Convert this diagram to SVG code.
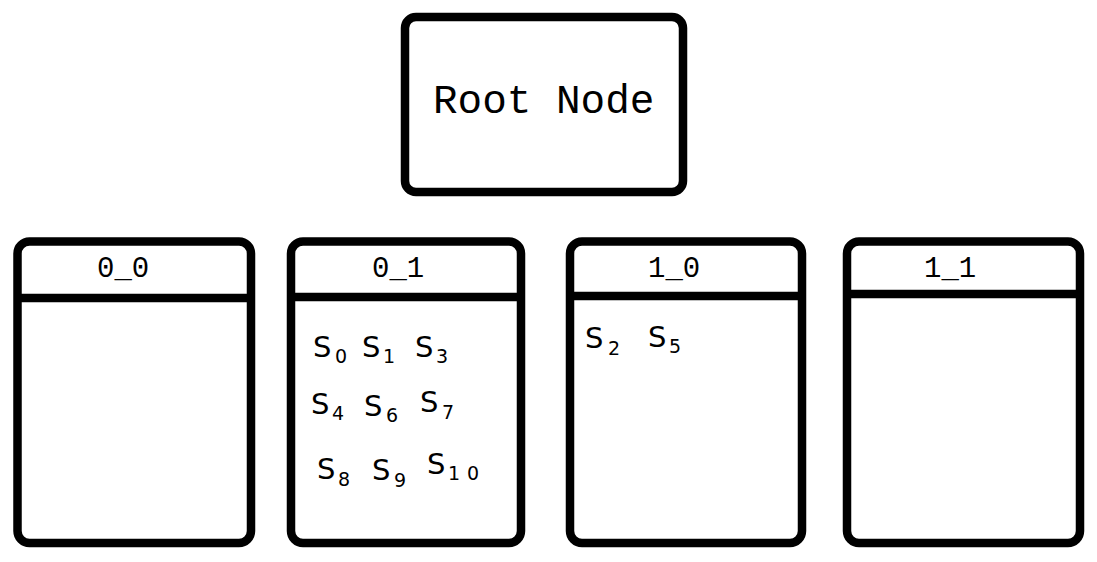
<svg xmlns="http://www.w3.org/2000/svg" width="1097" height="562" viewBox="0 0 1097 562">
<style>
.box{fill:#fff;stroke:#000;stroke-width:8.5;stroke-linejoin:round}
.div{stroke:#000;stroke-width:8.5;fill:none}
.mono{font-family:"Liberation Mono","DejaVu Sans Mono",monospace;fill:#000}
.title{font-size:41px}
.hdr{font-size:29px}
.s{font-family:"DejaVu Sans",sans-serif;font-size:29px;fill:#000}
.sub{font-size:19px}
</style>
<rect width="1097" height="562" fill="#fff"/>
<g id="root">
<rect class="box" x="405" y="17" width="278" height="175" rx="11"/>
<text class="mono title" x="433" y="113">Root Node</text>
</g>
<g id="n00">
<rect class="box" x="17.5" y="241.5" width="233.5" height="301.5" rx="12"/>
<line class="div" x1="17.5" y1="298" x2="251" y2="298"/>
<text class="mono hdr" x="97" y="277">0_0</text>
</g>
<g id="n01">
<rect class="box" x="291" y="241.5" width="230" height="301.5" rx="12"/>
<line class="div" x1="291" y1="297" x2="521" y2="297"/>
<text class="mono hdr" x="372" y="277">0_1</text>
<text class="s" x="313" y="357">S<tspan class="sub" x="335" y="363">0</tspan></text>
<text class="s" x="362" y="357">S<tspan class="sub" x="383" y="363">1</tspan></text>
<text class="s" x="415" y="357">S<tspan class="sub" x="436" y="363">3</tspan></text>
<text class="s" x="311" y="414">S<tspan class="sub" x="332" y="420">4</tspan></text>
<text class="s" x="364" y="416">S<tspan class="sub" x="386" y="422">6</tspan></text>
<text class="s" x="420" y="412">S<tspan class="sub" x="442" y="419">7</tspan></text>
<text class="s" x="317" y="479">S<tspan class="sub" x="338" y="486">8</tspan></text>
<text class="s" x="372" y="480">S<tspan class="sub" x="394" y="487">9</tspan></text>
<text class="s" x="427" y="474">S<tspan class="sub" x="448" y="480" letter-spacing="7">10</tspan></text>
</g>
<g id="n10">
<rect class="box" x="570" y="241.5" width="232" height="301.5" rx="12"/>
<line class="div" x1="570" y1="296" x2="802" y2="296"/>
<text class="mono hdr" x="648" y="277">1_0</text>
<text class="s" x="585" y="348">S<tspan class="sub" x="608" y="355">2</tspan></text>
<text class="s" x="648" y="347">S<tspan class="sub" x="669" y="353">5</tspan></text>
</g>
<g id="n11">
<rect class="box" x="847" y="241.5" width="233" height="301.5" rx="12"/>
<line class="div" x1="847" y1="294" x2="1080" y2="294"/>
<text class="mono hdr" x="924" y="277">1_1</text>
</g>
<g id="connectors"></g>
</svg>
